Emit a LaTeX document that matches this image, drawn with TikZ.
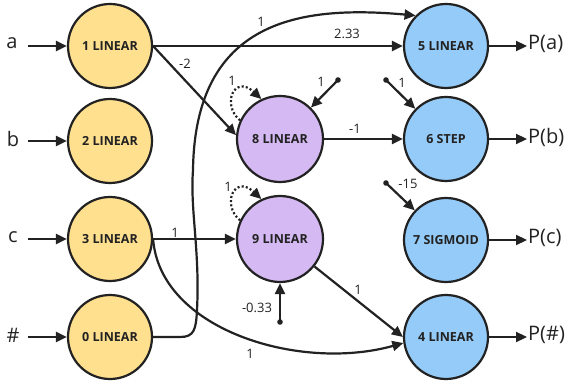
\documentclass[tikz,border=0pt]{standalone}
\usepackage{fontspec}
\setmainfont{Open Sans}
\usetikzlibrary{arrows.meta}
\definecolor{yel}{HTML}{FFE08F}
\definecolor{pur}{HTML}{D4B9F2}
\definecolor{blu}{HTML}{94CBF8}
\definecolor{ink}{HTML}{222222}
\begin{document}
\begin{tikzpicture}[x=1pt,y=-1pt,
  neuron/.style={circle,draw=ink,line width=2.2pt,minimum size=84pt,inner sep=0pt,
    font=\fontsize{12.5}{14}\selectfont\bfseries,text=ink},
  inn/.style={neuron,fill=yel},
  hid/.style={neuron,fill=pur,minimum size=86pt},
  outn/.style={neuron,fill=blu},
  conn/.style={draw=ink,line width=2.2pt,-{Triangle[length=11pt,width=10pt]}},
  loopc/.style={conn,dash pattern=on 2pt off 2.2pt},
  wl/.style={font=\fontsize{13}{15}\selectfont,text=ink,inner sep=1pt},
  io/.style={font=\fontsize{20}{22}\selectfont,text=ink,inner sep=1pt},
  dotb/.style={fill=ink}
]
\useasboundingbox (0,0) rectangle (572,387);
% nodes
\node[inn] (n1) at (110,46) {1 LINEAR};
\node[inn] (n2) at (110,141) {2 LINEAR};
\node[inn] (n3) at (110,239) {3 LINEAR};
\node[inn] (n0) at (110,337) {0 LINEAR};
\node[hid] (n8) at (280,139) {8 LINEAR};
\node[hid] (n9) at (280,239) {9 LINEAR};
\node[outn] (n5) at (446,46) {5 LINEAR};
\node[outn] (n6) at (446,139) {6 STEP};
\node[outn] (n7) at (446,240) {7 SIGMOID};
\node[outn] (n4) at (446,337) {4 LINEAR};
% inputs
\node[io] (ia) at (12,43) {a};
\node[io] (ib) at (13,139) {b};
\node[io] (ic) at (13,237) {c};
\node[io] (ih) at (13,335) {\#};
\coordinate (ia1) at (28,46);
\coordinate (ib1) at (28,141);
\coordinate (ic1) at (28,239);
\coordinate (ih1) at (28,337);
\draw[conn] (ia1) -- (n1.west);
\draw[conn] (ib1) -- (n2.west);
\draw[conn] (ic1) -- (n3.west);
\draw[conn] (ih1) -- (n0.west);
% outputs
\node[io,anchor=west] (pa) at (527,44) {P(a)};
\node[io,anchor=west] (pb) at (527,137) {P(b)};
\node[io,anchor=west] (pc) at (527,238) {P(c)};
\node[io,anchor=west] (ph) at (527,335) {P(\#)};
\draw[conn] (n5.east) -- (n5.east -| pa.west);
\draw[conn] (n6.east) -- (n6.east -| pb.west);
\draw[conn] (n7.east) -- (n7.east -| pc.west);
\draw[conn] (n4.east) -- (n4.east -| ph.west);
% straight edges
\draw[conn] (n1.east) -- (n5.west);
\draw[conn] (n1.east) -- (n8.175);
\draw[conn] (n3.east) -- (n9.west);
\draw[conn] (n8.east) -- (n6.west);
\draw[conn] (n9) -- (n4.west);
% curved edges
\draw[conn] (n0.east) -- (180,337) .. controls (194,337) and (196,330) .. (197,310)
  .. controls (200,250) and (190,210) .. (193,170)
  .. controls (195,20) and (300,5) .. (n5.135);
\draw[conn] (n3.east) .. controls (160,330) and (300,372) .. (n4.188);
% self loops
\draw[loopc] (n8.155) .. controls +(-19,-16) and +(-27,-25) .. (n8.115);
\draw[loopc] (n9.155) .. controls +(-19,-16) and +(-27,-25) .. (n9.115);
% biases
\coordinate (b8) at (338,80);
\coordinate (b6) at (386,80);
\coordinate (b7) at (386,183);
\coordinate (b9) at (280,322);
\foreach \b in {b8,b6,b7,b9} \fill[dotb] (\b) circle (2.8pt);
\draw[conn] (b8) -- (n8);
\draw[conn] (b6) -- (n6);
\draw[conn] (b7) -- (n7);
\draw[conn] (b9) -- (n9);
% weight labels
\node[wl] (w1) at (261,22) {1};
\node[wl] (w2) at (347,34) {2.33};
\node[wl] (w3) at (185,64) {-2};
\node[wl] (w4) at (232,81) {1};
\node[wl] (w5) at (321,82) {1};
\node[wl] (w6) at (402,83) {1};
\node[wl] (w7) at (355,129) {-1};
\node[wl] (w8) at (228,187) {1};
\node[wl] (w9) at (408,184) {-15};
\node[wl] (w10) at (175,233) {1};
\node[wl] (w11) at (358,290) {1};
\node[wl] (w12) at (257,308) {-0.33};
\node[wl] (w13) at (250,354) {1};
\end{tikzpicture}
\end{document}
